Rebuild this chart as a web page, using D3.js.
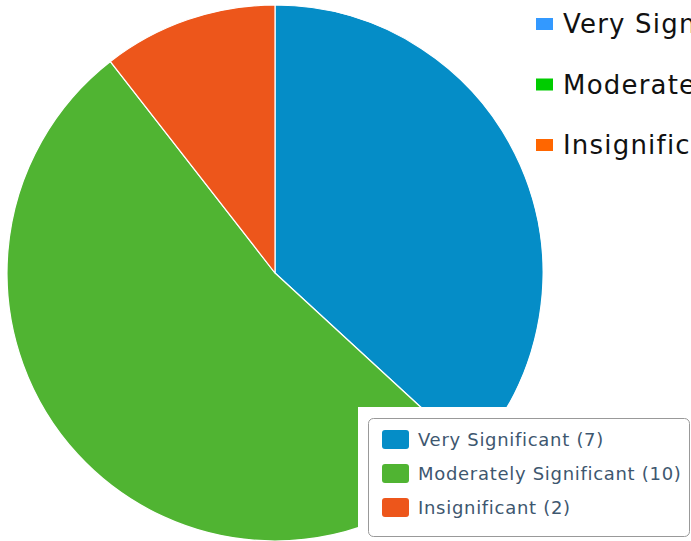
<!DOCTYPE html>
<html>
<head>
<meta charset="utf-8">
<script src="https://cdn.jsdelivr.net/npm/d3@7"></script>
<style>
	body { margin: 0; background: #fff; }
	svg { display: block; }
</style>
</head>
<body>
<div id="chart"></div>
<script>
var categories = ['Very Significant', 'Moderately Significant', 'Insignificant'];
var counts = [7, 10, 2];
var sliceColors = ['#058DC7', '#50B432', '#ED561B'];
var keyColors = ['#3399FF', '#00CC00', '#FF6600'];

var width = 691,
	height = 541;

var svg = d3.select('#chart')
	.append('svg')
	.attr('width', width)
	.attr('height', height);

var data = categories.map(function(c, i) {
	return {name: c, value: counts[i], color: sliceColors[i], key: keyColors[i]};
});

var pie = d3.pie()
	.sort(null)
	.value(function(d) {return d.value});

var arc = d3.arc()
	.innerRadius(0)
	.outerRadius(268);

var pieGroup = svg.append('g')
	.attr('transform', 'translate(275,273)');

pieGroup.selectAll('path')
	.data(pie(data))
	.enter()
	.append('path')
	.attr('d', arc)
	.attr('fill', function(d) {return d.data.color})
	.attr('stroke', '#fff')
	.attr('stroke-width', 1.2)
	.attr('stroke-linejoin', 'round');

// legend at top right (cut by the edge of the picture, as in the original)
var topKey = svg.append('g')
	.selectAll('g')
	.data(data)
	.enter()
	.append('g')
	.attr('transform', function(d, i) {return 'translate(536,' + (33 + i * 60.5) + ')'});

topKey.append('rect')
	.attr('x', 0)
	.attr('y', -15)
	.attr('width', 17)
	.attr('height', 12)
	.attr('fill', function(d) {return d.key});

topKey.append('text')
	.attr('x', 27)
	.attr('y', 0)
	.text(function(d) {return d.name})
	.style('font-family', '"DejaVu Sans", sans-serif')
	.style('font-size', '26px')
	.style('letter-spacing', '1.2px')
	.style('fill', '#111');

// boxed legend bottom right
svg.append('rect')
	.attr('x', 358)
	.attr('y', 407)
	.attr('width', width - 358)
	.attr('height', height - 407)
	.attr('fill', '#fff');

svg.append('rect')
	.attr('x', 368.5)
	.attr('y', 418.5)
	.attr('width', 321)
	.attr('height', 118)
	.attr('rx', 5)
	.attr('fill', '#fff')
	.attr('stroke', '#999')
	.attr('stroke-width', 1);

var item = svg.append('g')
	.selectAll('g')
	.data(data)
	.enter()
	.append('g')
	.attr('transform', function(d, i) {return 'translate(382,' + (430 + i * 34) + ')'});

item.append('rect')
	.attr('width', 27)
	.attr('height', 19)
	.attr('rx', 3)
	.attr('fill', function(d) {return d.color});

item.append('text')
	.attr('x', 36)
	.attr('y', 16)
	.text(function(d) {return d.name + ' (' + d.value + ')'})
	.style('font-family', '"DejaVu Sans", Verdana, sans-serif')
	.style('font-size', '18px')
	.style('letter-spacing', '0.7px')
	.style('fill', '#3E576F');
</script>
</body>
</html>
